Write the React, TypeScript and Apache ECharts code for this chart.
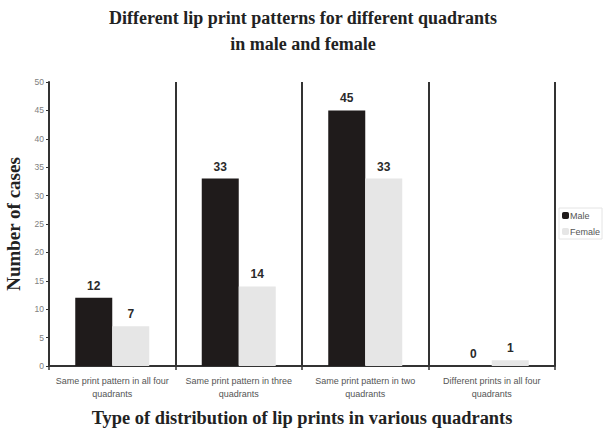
import React, { useEffect, useRef } from "react";
import * as echarts from "echarts";

const categories = [
  "Same print pattern in all four\nquadrants",
  "Same print pattern in three\nquadrants",
  "Same print pattern in two\nquadrants",
  "Different prints in all four\nquadrants",
];
const maleValues = [12, 33, 45, 0];
const femaleValues = [7, 14, 33, 1];

export default function App() {
  const ref = useRef<HTMLDivElement>(null);
  useEffect(() => {
    if (!ref.current) return;
    const chart = echarts.init(ref.current, null, { renderer: "svg" });
    const labelStyle = {
      show: true,
      position: "top" as const,
      fontFamily: "Arial, Liberation Sans, sans-serif",
      fontWeight: "bold" as const,
      fontSize: 12,
      color: "#2a2a2a",
      distance: 6,
    };
    chart.setOption({
      animation: false,
      backgroundColor: "#ffffff",
      title: {
        text: "Different lip print patterns for different quadrants\nin male and female",
        left: "center",
        top: 0,
        textStyle: {
          fontFamily: "Liberation Serif, Times New Roman, serif",
          fontWeight: "bold",
          fontSize: 18,
          lineHeight: 26,
          color: "#222",
        },
      },
      legend: {
        orient: "vertical",
        left: 559,
        top: 208,
        itemWidth: 7,
        itemHeight: 7,
        itemGap: 7,
        padding: [3, 2, 3, 3],
        borderColor: "#e4e4e4",
        borderWidth: 1,
        textStyle: {
          fontFamily: "Arial, Liberation Sans, sans-serif",
          fontSize: 9,
          color: "#555",
          padding: [0, 0, 0, -4],
        },
        data: ["Male", "Female"],
      },
      grid: { left: 49, right: 51, top: 82, bottom: 65, outerBoundsMode: "none", containLabel: false },
      xAxis: {
        type: "category",
        data: categories,
        name: "Type of distribution of lip prints in various quadrants",
        nameLocation: "middle",
        nameGap: 43,
        nameTextStyle: {
          fontFamily: "Liberation Serif, Times New Roman, serif",
          fontWeight: "bold",
          fontSize: 18.4,
          color: "#222",
        },
        axisLine: { lineStyle: { color: "#333", width: 2 } },
        axisTick: { show: true, length: 4, lineStyle: { color: "#333", width: 1.5 } },
        axisLabel: {
          interval: 0,
          margin: 8,
          fontFamily: "Arial, Liberation Sans, sans-serif",
          fontSize: 9,
          lineHeight: 13,
          color: "#555",
        },
        splitLine: { show: true, interval: 0, lineStyle: { color: "#333", width: 2 } },
      },
      yAxis: {
        type: "value",
        min: 0,
        max: 50,
        interval: 5,
        name: "Number of cases",
        nameLocation: "middle",
        nameGap: 26,
        nameTextStyle: {
          fontFamily: "Liberation Serif, Times New Roman, serif",
          fontWeight: "bold",
          fontSize: 19,
          color: "#222",
        },
        axisLine: { show: true, lineStyle: { color: "#333", width: 2 } },
        axisTick: { show: true, length: 3, lineStyle: { color: "#333" } },
        axisLabel: {
          fontFamily: "Arial, Liberation Sans, sans-serif",
          fontSize: 8.5,
          color: "#808080",
          margin: 5,
        },
        splitLine: { show: false },
      },
      series: [
        {
          name: "Male",
          type: "bar",
          data: maleValues,
          barWidth: 37,
          barGap: "0%",
          itemStyle: { color: "#1f1b1b" },
          label: labelStyle,
        },
        {
          name: "Female",
          type: "bar",
          data: femaleValues,
          barWidth: 37,
          barGap: "0%",
          itemStyle: { color: "#e6e6e6" },
          label: labelStyle,
        },
      ],
    });
    return () => chart.dispose();
  }, []);
  return (
    <div
      ref={ref}
      style={{ position: "absolute", left: 0, top: 0, width: 606, height: 431 }}
    />
  );
}
